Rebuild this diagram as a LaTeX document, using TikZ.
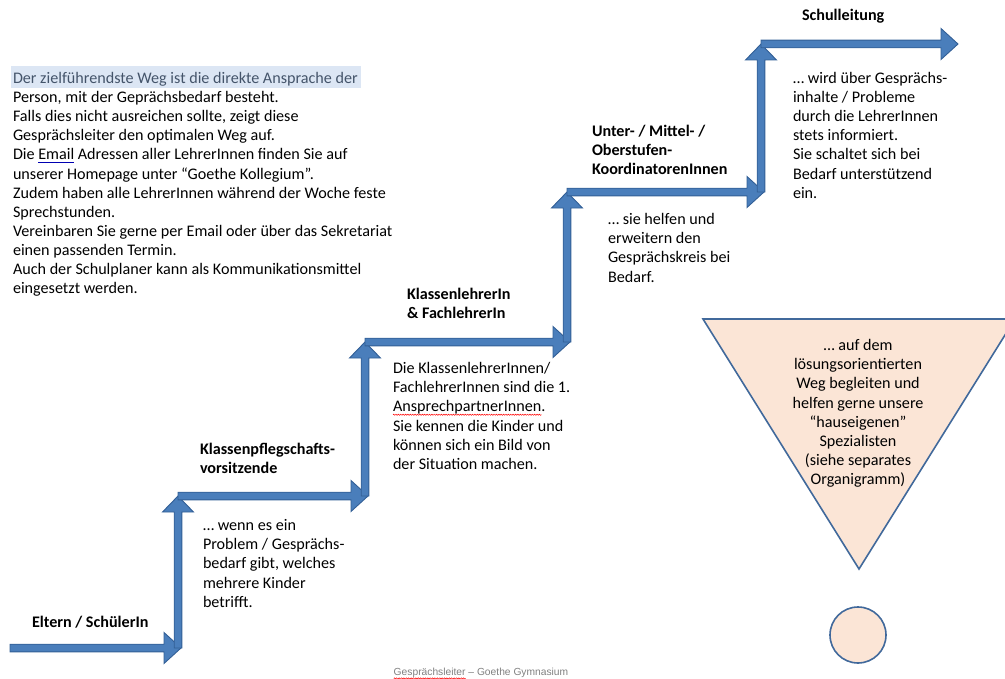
\documentclass[tikz,border=0pt]{standalone}
\usepackage{fontspec}
\setmainfont{Carlito}
\newfontfamily\capfont{Liberation Sans}
\usetikzlibrary{calc,decorations.pathmorphing}
\definecolor{stepfill}{HTML}{4A7EBB}
\definecolor{stepline}{HTML}{325F96}
\definecolor{peach}{HTML}{FBE5D6}
\definecolor{triline}{HTML}{41699B}
\definecolor{hilite}{HTML}{DCE6F4}
\definecolor{firstline}{HTML}{44546A}
\newsavebox\wbox
\newcommand\redwave[1]{\sbox\wbox{#1}\rlap{\usebox\wbox}\tikz[baseline=0pt,x=1pt,y=1pt]{\useasboundingbox (0,0) rectangle (\wd\wbox,0.1pt);\draw[red,line width=0.5pt,decorate,decoration={zigzag,segment length=2.4pt,amplitude=0.6pt}] (0,-2.8pt) -- (\wd\wbox,-2.8pt);}}
\newcommand\blueul[1]{\sbox\wbox{#1}\rlap{\usebox\wbox}\textcolor{blue!70!black}{\rule[-2.5pt]{\wd\wbox}{0.8pt}}}
\newcommand\hstep[2]{\filldraw[steparrow] ($(#1)+(0,-3.8)$) -- ($(#2)+(-17,-3.8)$) -- ($(#2)+(-17,-15.5)$) -- (#2) -- ($(#2)+(-17,15.5)$) -- ($(#2)+(-17,3.8)$) -- ($(#1)+(0,3.8)$) -- cycle;}
\newcommand\vstep[2]{\filldraw[steparrow] ($(#1)+(-3.8,0)$) -- ($(#2)+(-3.8,16)$) -- ($(#2)+(-15.5,16)$) -- (#2) -- ($(#2)+(15.5,16)$) -- ($(#2)+(3.8,16)$) -- ($(#1)+(3.8,0)$) -- cycle;}
\begin{document}
\begin{tikzpicture}[x=1bp,y=-1bp,
  txt/.style={inner sep=0pt,outer sep=0pt,anchor=north west,align=left,font=\fontsize{16.2}{19.2}\selectfont},
  lbl/.style={inner sep=0pt,outer sep=0pt,anchor=north west,align=left,font=\fontsize{16.2}{19.2}\selectfont\bfseries},
  steparrow/.style={fill=stepfill,draw=stepline,line width=0.9bp,line join=miter}]
\useasboundingbox (0,0) rectangle (1005,679);
\clip (0,0) rectangle (1005,679);
% staircase corners
\coordinate (a0) at (10,648);
\coordinate (k1) at (178,648);
\coordinate (t1) at (181,648);
\coordinate (k2) at (178,496);
\coordinate (t3) at (368,496);
\coordinate (k3) at (365,496);
\coordinate (k4) at (365,342);
\coordinate (t5) at (570,342);
\coordinate (k5) at (567,342);
\coordinate (k6) at (567,192);
\coordinate (t7) at (764,192);
\coordinate (k7) at (761,192);
\coordinate (k8) at (761,44);
\coordinate (t9) at (958,44);
\hstep{a0}{t1}
\vstep{k1}{k2}
\hstep{k2}{t3}
\vstep{k3}{k4}
\hstep{k4}{t5}
\vstep{k5}{k6}
\hstep{k6}{t7}
\vstep{k7}{k8}
\hstep{k8}{t9}
% intro text
\fill[hilite] (11,66) rectangle (361,88);
\node[txt] (intro) at (13,70) {\strut\textcolor{firstline}{Der zielführendste Weg ist die direkte Ansprache der}\\
Person, mit der Geprächsbedarf besteht.\\
Falls dies nicht ausreichen sollte, zeigt diese\\
Gesprächsleiter den optimalen Weg auf.\\
Die \blueul{Email} Adressen aller LehrerInnen finden Sie auf\\
unserer Homepage unter “Goethe Kollegium”.\\
Zudem haben alle LehrerInnen während der Woche feste\\
Sprechstunden.\\
Vereinbaren Sie gerne per Email oder über das Sekretariat\\
einen passenden Termin.\\
Auch der Schulplaner kann als Kommunikationsmittel\\
eingesetzt werden.};
% labels
\node[lbl] (eltern) at (32,614.3) {\strut Eltern / SchülerIn};
\node[lbl] (kpv) at (200,441) {\strut Klassenpflegschafts-\\vorsitzende};
\node[txt] (kpvtext) at (203,517.3) {\strut … wenn es ein\\Problem / Gesprächs-\\bedarf gibt, welches\\mehrere Kinder\\betrifft.};
\node[lbl] (kl) at (407,286.3) {\strut KlassenlehrerIn\\\& FachlehrerIn};
\node[txt] (kltext) at (393,360.3) {\strut Die KlassenlehrerInnen/\\FachlehrerInnen sind die 1.\\\redwave{AnsprechpartnerInnen}.\\Sie kennen die Kinder und\\können sich ein Bild von\\der Situation machen.};
\node[lbl] (koord) at (592,123.3) {\strut Unter- / Mittel- /\\Oberstufen-\\KoordinatorenInnen};
\node[txt] (koordtext) at (608,211.3) {\strut … sie helfen und\\erweitern den\\Gesprächskreis bei\\Bedarf.};
\node[lbl] (sl) at (802,7.3) {\strut Schulleitung};
\node[txt] (sltext) at (793,70) {\strut … wird über Gesprächs-\\inhalte / Probleme\\durch die LehrerInnen\\stets informiert.\\Sie schaltet sich bei\\Bedarf unterstützend\\ein.};
% specialists
\filldraw[fill=peach,draw=triline,line width=1.6bp] (703,319) -- (1015,319) -- (859,569) -- cycle;
\node[txt,anchor=north,align=center] (spez) at (858,337.3) {\strut … auf dem\\lösungsorientierten\\Weg begleiten und\\helfen gerne unsere\\“hauseigenen”\\Spezialisten\\(siehe separates\\Organigramm)};
\node[circle,fill=peach,draw=triline,line width=1.6bp,minimum size=56bp,inner sep=0pt] (dot) at (858,635) {};
% caption
\node[inner sep=0pt,font=\capfont\fontsize{10.3}{12}\selectfont,text=gray] (cap) at (481,673) {\redwave{Gesprächsleiter} – Goethe Gymnasium};
\end{tikzpicture}
\end{document}
